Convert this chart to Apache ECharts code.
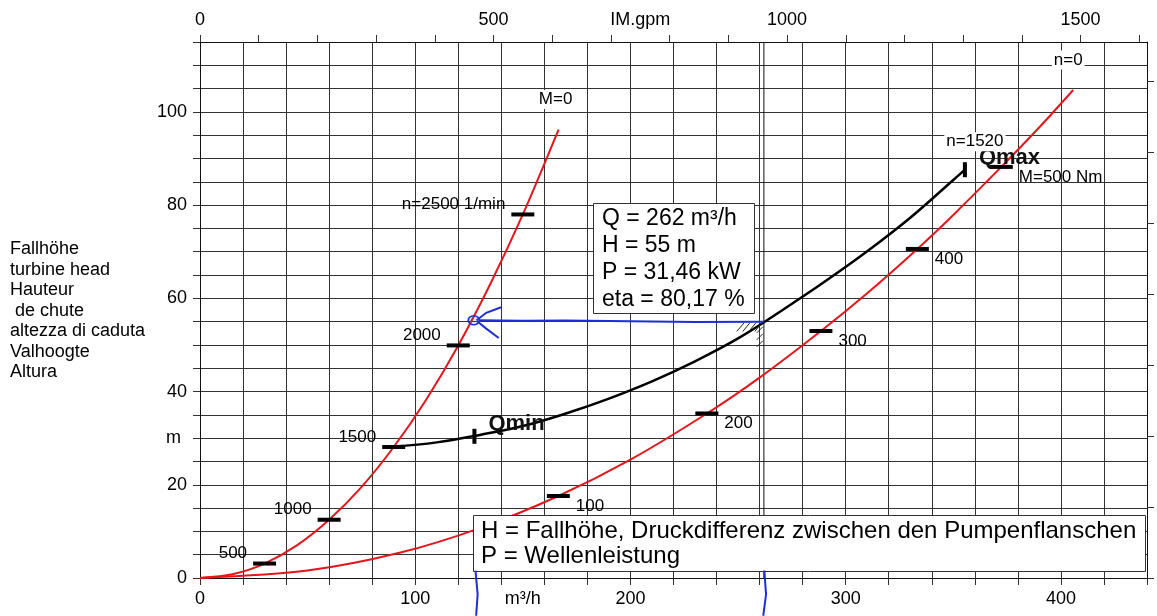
<!DOCTYPE html>
<html>
<head>
<meta charset="utf-8">
<title>Turbinenkennlinie</title>
<script src="https://cdn.jsdelivr.net/npm/echarts@6/dist/echarts.min.js"></script>
<style>
  html, body { margin: 0; padding: 0; background: #fff; }
  #chart { width: 1157px; height: 616px; }
</style>
</head>
<body>
<div id="chart"></div>
<script>
// ---- units ----
const M3H_PER_IGPM = 0.272765;   // 1 imperial gpm in m³/h
const M_PER_FT = 0.3048;

// ---- axis ranges / tick labels ----
const flowMax = 440;                       // m³/h
const headMax = 115;                       // m
const flowLabelValues = [0, 100, 150, 200, 300, 400];
const flowUnitAt = 150;                    // where "m³/h" sits
const gpmLabelValues = [0, 500, 750, 1000, 1500];
const gpmUnitAt = 750;                     // where "IM.gpm" sits
const headUnitAt = 30;                     // where "m" sits

// ---- curves: [Q m³/h, H m] ----
const curveM0 = [[0, 0], [15, 0.8], [30, 3.1], [45, 7.0], [60, 12.5], [75, 19.5], [90, 28.1],
  [105, 38.2], [120, 49.9], [135, 63.2], [150, 78.0], [166.6, 96.2]];
const curveN0 = [[0, 0], [50, 1.6], [92.7, 5.4], [130, 10.7], [166.5, 17.6], [200, 25.4],
  [235.5, 35.3], [260, 43.0], [288.5, 53.0], [310, 61.1], [333.3, 70.6], [350, 77.9],
  [372.3, 88.2], [390, 96.7], [405.7, 104.7]];
const curveDuty = [[90, 28.2], [110, 29.1], [130, 30.7], [150, 32.6], [170, 35.3], [190, 38.5],
  [210, 42.2], [230, 46.5], [250, 51.4], [270, 57.3], [290, 63.5], [310, 70.1],
  [330, 77.3], [350, 85.4], [355.4, 87.6]];

// speed marks on the M=0 curve (1/min)
const speedMarks = [[30, 3.1], [60, 12.5], [90, 28.1], [120, 49.9], [150, 78.0]];
const speedLabels = ['500', '1000', '1500', '2000', 'n=2500 1/min'];
// torque marks on the n=0 curve (Nm)
const torqueMarks = [[166.5, 17.6], [235.5, 35.3], [288.5, 53.0], [333.3, 70.6], [372.3, 88.2]];
const torqueLabels = ['100', '200', '300', '400', 'M=500 Nm'];

// curve end tags
const tagM0 = 'M=0', tagN0 = 'n=0', tagDuty = 'n=1520';

// limits of the operating range
const qMin = [127.5, 30.4];
const qMax = [355.4, 87.6];

// operating point
const opQ = 262, opH = 55, opP = '31,46', opEta = '80,17';

// hand-drawn construction (blue) and hatch marks
const blueTrace = [[129.8, 55.3], [150, 55.2], [170, 55.25], [200, 55.1], [230, 54.95], [opQ, opH]];
const blueArrowUp = [[128.5, 55.3], [133, 56.9], [139.9, 58.1]];
const blueArrowDown = [[128.5, 55.2], [133, 53.5], [138.8, 51.5]];
const blueTickA = [[128.0, 1.6], [129.0, -3.5], [128.3, -8.1]];
const blueTickB = [[262.2, 1.6], [263.0, -3.5], [261.7, -8.1]];
const blueCircle = [127.2, 55.3];
const hatch = [
  [[249.4, 52.9], [252.7, 54.7]], [[252.2, 52.9], [255.4, 54.7]],
  [[255.0, 52.9], [258.2, 54.7]], [[257.8, 52.9], [261.0, 54.7]],
  [[258.7, 52.6], [261.5, 53.9]], [[258.7, 51.1], [261.5, 52.4]],
  [[258.7, 49.6], [261.5, 50.9]]
];

// ---- styles ----
const FONT = "'Liberation Sans', Arial, sans-serif";
const RED = '#e5161b';
const BLUE = '#1f2fd6';
const GRID = '#333';
const TXT = '#000';

function range(step, max) {
  const out = [];
  for (let v = 0; v <= max + 1e-9; v += step) out.push(v);
  return out;
}

const chart = echarts.init(document.getElementById('chart'), null, { renderer: 'canvas' });

const option = {
  animation: false,
  backgroundColor: '#fff',
  textStyle: { fontFamily: FONT },
  title: [
    {
      text: 'Fallhöhe\nturbine head\nHauteur\n de chute\naltezza di caduta\nValhoogte\nAltura',
      left: 10, top: 239, padding: 0,
      textStyle: { fontFamily: FONT, fontSize: 18, fontWeight: 'normal', color: TXT, lineHeight: 20.5 }
    },
    {
      text: 'Q = ' + opQ + ' m³/h\nH = ' + opH + ' m\nP = ' + opP + ' kW\neta = ' + opEta + ' %',
      left: 593, top: 203, padding: [2, 10, 1, 9],
      backgroundColor: '#fff', borderColor: '#333', borderWidth: 1,
      textStyle: { fontFamily: FONT, fontSize: 23, fontWeight: 'normal', color: TXT, lineHeight: 27 }
    },
    {
      text: 'H = Fallhöhe, Druckdifferenz zwischen den Pumpenflanschen\nP = Wellenleistung',
      left: 473, top: 515, padding: [4, 9, 3, 8],
      backgroundColor: '#fff', borderColor: '#333', borderWidth: 1,
      textStyle: { fontFamily: FONT, fontSize: 24, fontWeight: 'normal', color: TXT, lineHeight: 25 }
    }
  ],
  grid: { left: 200, right: 10, top: 42, bottom: 38, containLabel: false },
  xAxis: [
    {
      type: 'value', position: 'bottom', min: 0, max: flowMax, interval: 20,
      axisLine: { show: true, onZero: false, lineStyle: { color: '#111', width: 1 } },
      axisTick: { show: true, inside: false, length: 7, lineStyle: { color: GRID } },
      splitLine: { show: true, lineStyle: { color: GRID, width: 1 } },
      axisLabel: {
        customValues: flowLabelValues, margin: 12, fontSize: 18, color: TXT, fontFamily: FONT,
        formatter: v => (v === flowUnitAt ? 'm³/h' : String(v))
      }
    },
    {
      type: 'value', position: 'top', min: 0, max: flowMax / M3H_PER_IGPM, interval: 100,
      axisLine: { show: true, onZero: false, lineStyle: { color: '#111', width: 1 } },
      axisTick: { show: true, inside: false, length: 7, customValues: range(100, flowMax / M3H_PER_IGPM), lineStyle: { color: GRID } },
      splitLine: { show: false },
      axisLabel: {
        customValues: gpmLabelValues, margin: 13, fontSize: 18, color: TXT, fontFamily: FONT,
        formatter: v => (v === gpmUnitAt ? 'IM.gpm' : String(v))
      }
    }
  ],
  yAxis: [
    {
      type: 'value', position: 'left', min: 0, max: headMax, interval: 5,
      axisLine: { show: true, onZero: false, lineStyle: { color: '#111', width: 1 } },
      axisTick: { show: true, inside: false, length: 7, lineStyle: { color: GRID } },
      splitLine: { show: true, lineStyle: { color: GRID, width: 1 } },
      axisLabel: {
        margin: 13, fontSize: 18, color: TXT, fontFamily: FONT,
        formatter: v => (v === headUnitAt ? '{u|m}' : (v % 20 === 0 ? String(v) : '')),
        rich: { u: { fontSize: 18, color: TXT, fontFamily: FONT, padding: [0, 6, 0, 0] } }
      }
    },
    {
      type: 'value', position: 'right', min: 0, max: headMax / M_PER_FT, interval: 50,
      axisLine: { show: true, onZero: false, lineStyle: { color: '#111', width: 1 } },
      axisTick: { show: true, inside: false, length: 7, customValues: range(50, headMax / M_PER_FT), lineStyle: { color: GRID } },
      splitLine: { show: false },
      axisLabel: { show: false }
    }
  ],
  series: [
    // operating flow line
    {
      type: 'line', xAxisIndex: 0, yAxisIndex: 0, data: [[opQ, 0], [opQ, headMax]],
      showSymbol: false, silent: true, z: 1,
      lineStyle: { color: '#111', width: 1 }
    },
    {
      name: 'M=0', type: 'line', data: curveM0, smooth: 0.3, showSymbol: false, z: 3,
      lineStyle: { color: RED, width: 2 }
    },
    {
      name: 'n=0', type: 'line', data: curveN0, smooth: 0.3, showSymbol: false, z: 3,
      lineStyle: { color: RED, width: 2 }
    },
    {
      name: 'n=1520', type: 'line', data: curveDuty, smooth: 0.4, showSymbol: false, z: 3,
      lineStyle: { color: '#000', width: 2.5 }
    },
    // speed marks on M=0
    {
      type: 'scatter', z: 4, symbol: 'rect', symbolSize: [23, 4],
      itemStyle: { color: '#000', opacity: 1 },
      data: speedMarks.map((p, i) => ({ value: p, name: speedLabels[i] })),
      label: {
        show: true, position: 'left', distance: 6, offset: [0, -10],
        formatter: p => p.name, fontSize: 17, color: TXT, fontFamily: FONT
      }
    },
    // torque marks on n=0
    {
      type: 'scatter', z: 4, symbol: 'rect', symbolSize: [23, 4],
      itemStyle: { color: '#000', opacity: 1 },
      data: torqueMarks.map((p, i) => ({ value: p, name: torqueLabels[i] })),
      label: {
        show: true, position: 'right', distance: 6, offset: [0, 10],
        formatter: p => p.name, fontSize: 17, color: TXT, fontFamily: FONT
      }
    },
    // Qmin / Qmax
    {
      type: 'scatter', z: 5, symbol: 'rect', symbolSize: [4, 15],
      itemStyle: { color: '#000', opacity: 1 },
      data: [{ value: qMin, name: 'Qmin' }, { value: qMax, name: 'Qmax' }],
      label: {
        show: true, position: 'right', distance: 12, offset: [0, -12],
        formatter: p => p.name, fontSize: 22, fontWeight: 'bold', color: '#111', fontFamily: FONT
      }
    },
    // curve end tags
    {
      type: 'scatter', z: 6, symbolSize: 0, silent: true,
      itemStyle: { opacity: 1 },
      data: [
        { value: curveM0[curveM0.length - 1], name: tagM0, label: { offset: [-3, -30] } },
        { value: curveN0[curveN0.length - 1], name: tagN0, label: { offset: [-5, -30] } },
        { value: curveDuty[curveDuty.length - 1], name: tagDuty, label: { offset: [10, -28] } }
      ],
      label: {
        show: true, position: 'inside', formatter: p => p.name,
        fontSize: 17, color: TXT, fontFamily: FONT, backgroundColor: '#fff', padding: [1, 2]
      }
    },
    // blue construction lines
    {
      type: 'lines', coordinateSystem: 'cartesian2d', polyline: true, clip: false, z: 7, silent: true,
      lineStyle: { color: BLUE, width: 2, opacity: 1 },
      data: [
        { coords: blueTrace }, { coords: blueArrowUp }, { coords: blueArrowDown },
        { coords: blueTickA }, { coords: blueTickB }
      ]
    },
    {
      type: 'scatter', z: 7, symbol: 'circle', symbolSize: [11, 9], silent: true,
      itemStyle: { color: 'rgba(60,80,255,0.15)', borderColor: BLUE, borderWidth: 1.6, opacity: 1 },
      data: [blueCircle]
    },
    // hatch at the operating point
    {
      type: 'lines', coordinateSystem: 'cartesian2d', z: 6, silent: true,
      lineStyle: { color: '#222', width: 1, opacity: 1 },
      data: hatch.map(seg => ({ coords: seg }))
    }
  ]
};

chart.setOption(option);
</script>
</body>
</html>
